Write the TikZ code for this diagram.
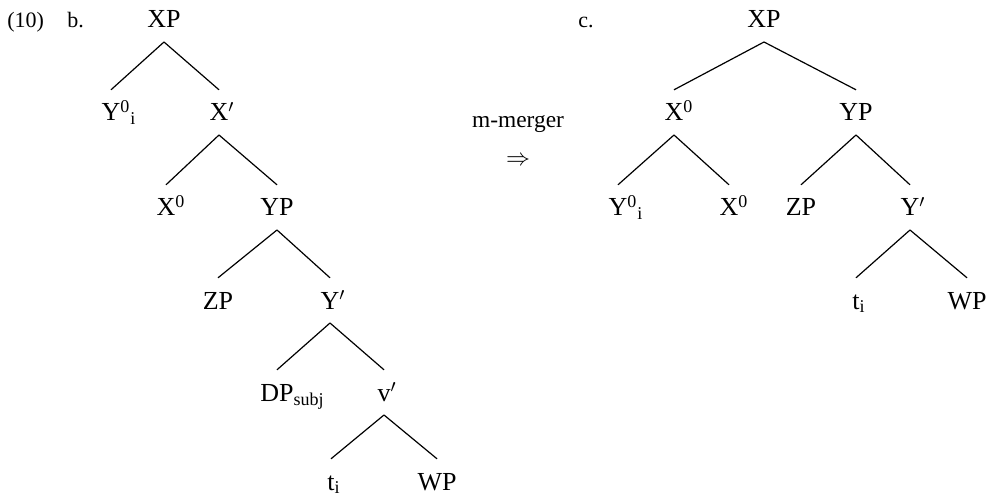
\documentclass[tikz,border=0pt]{standalone}
\usepackage{fontspec}
\setmainfont{Liberation Serif}
% small upright indices hung to the right of a label without widening it
\newcommand\idxfont{\fontsize{9}{10}\selectfont}
\newcommand\supsub[2]{\rlap{$^{\mbox{\idxfont #1}}{}_{\mbox{\idxfont #2}}$}}
\newcommand\onlysup[1]{\rlap{$^{\mbox{\idxfont #1}}$}}
\newcommand\onlysub[1]{\rlap{$_{\mbox{\idxfont #1}}$}}
\newcommand\barprime{\rlap{$'$}}
\begin{document}
\begin{tikzpicture}[x=0.5pt,y=-0.5pt,
  lab/.style={font=\fontsize{13}{15}\selectfont, text height=8.6pt,
    text depth=0pt, inner xsep=0pt, inner ysep=6.8pt, anchor=base},
  plain/.style={font=\fontsize{11}{13}\selectfont, inner sep=0pt},
  branch/.style={line width=0.6pt}]
\useasboundingbox (0,0) rectangle (996,497);

% example numbering
\node[plain, anchor=base west] (num) at (7,28) {(10)};
\node[plain, anchor=base west] (lb) at (67,28) {b.};
\node[plain, anchor=base west] (lc) at (578,28) {c.};

% tree b
\node[lab] (bXP)  at (164,28)  {XP};
\node[lab] (bY0)  at (111,121) {Y\supsub{0}{i}};
\node[lab] (bXb)  at (219,121) {X\barprime};
\node[lab] (bX0)  at (166,216) {X\onlysup{0}};
\node[lab] (bYP)  at (277,216) {YP};
\node[lab] (bZP)  at (218,309) {ZP};
\node[lab] (bYb)  at (330,309) {Y\barprime};
\node[lab] (bDP)  at (277,401) {DP\onlysub{subj}};
\node[lab] (bvb)  at (384,401) {v\barprime};
\node[lab] (bt)   at (331,490) {t\onlysub{i}};
\node[lab] (bWP)  at (437,490) {WP};

\draw[branch] (bXP.south) -- (bY0.north);
\draw[branch] (bXP.south) -- (bXb.north);
\draw[branch] (bXb.south) -- (bX0.north);
\draw[branch] (bXb.south) -- (bYP.north);
\draw[branch] (bYP.south) -- (bZP.north);
\draw[branch] (bYP.south) -- (bYb.north);
\draw[branch] (bYb.south) -- (bDP.north);
\draw[branch] (bYb.south) -- (bvb.north);
\draw[branch] (bvb.south) -- (bt.north);
\draw[branch] (bvb.south) -- (bWP.north);

% the operation between the trees
\node[plain, font=\fontsize{11.7}{13}\selectfont, anchor=base] (mm) at (518,128) {m-merger};
\node[plain, font=\fontsize{12}{13}\selectfont] (arr) at (518,161) {$\Rightarrow$};

% tree c
\node[lab] (cXP)  at (764,28)  {XP};
\node[lab] (cX0)  at (674,121) {X\onlysup{0}};
\node[lab] (cYP)  at (856,121) {YP};
\node[lab] (cY0)  at (618,216) {Y\supsub{0}{i}};
\node[lab] (cX0b) at (729,216) {X\onlysup{0}};
\node[lab] (cZP)  at (801,216) {ZP};
\node[lab] (cYb)  at (910,216) {Y\barprime};
\node[lab] (ct)   at (856,309) {t\onlysub{i}};
\node[lab] (cWP)  at (967,309) {WP};

\draw[branch] (cXP.south) -- (cX0.north);
\draw[branch] (cXP.south) -- (cYP.north);
\draw[branch] (cX0.south) -- (cY0.north);
\draw[branch] (cX0.south) -- (cX0b.north);
\draw[branch] (cYP.south) -- (cZP.north);
\draw[branch] (cYP.south) -- (cYb.north);
\draw[branch] (cYb.south) -- (ct.north);
\draw[branch] (cYb.south) -- (cWP.north);
\end{tikzpicture}
\end{document}
